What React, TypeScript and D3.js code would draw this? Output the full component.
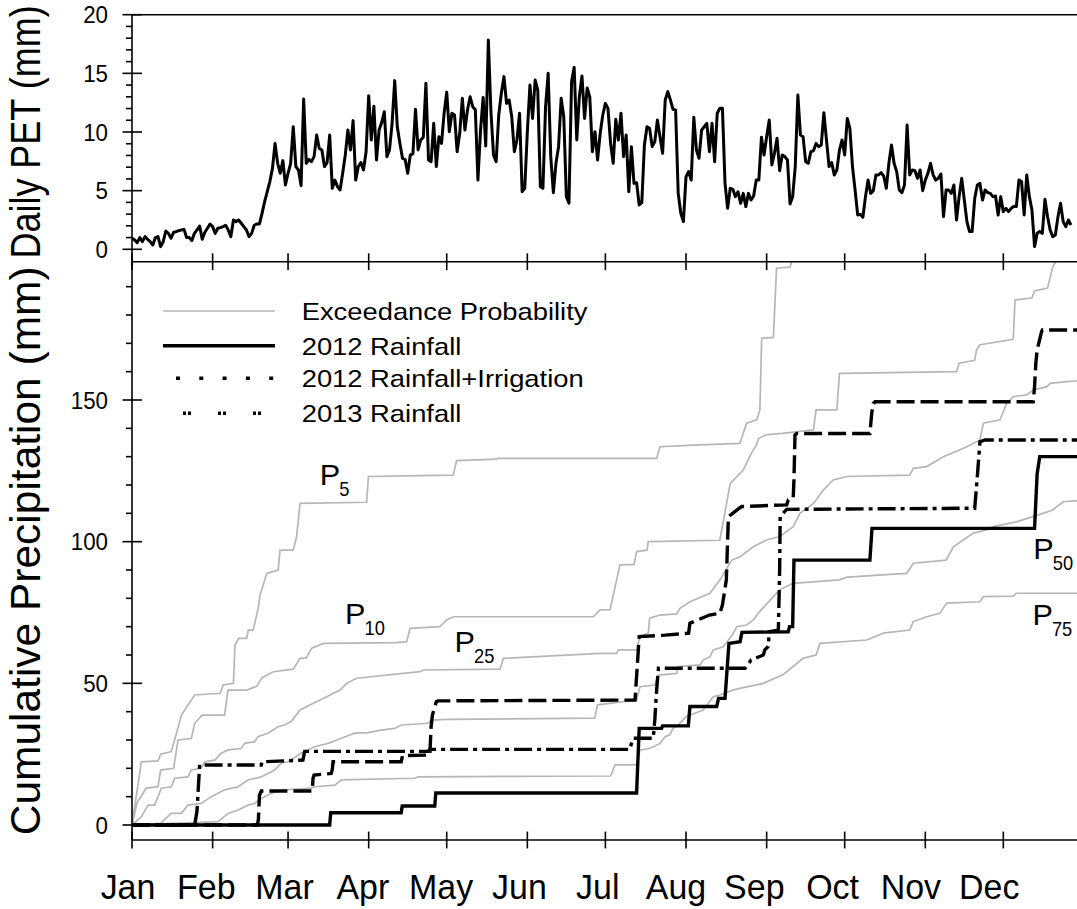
import React from "react";
import * as d3 from "d3";

// ---------------- DATA ----------------
const monthLabels = ["Jan", "Feb", "Mar", "Apr", "May", "Jun", "Jul", "Aug", "Sep", "Oct", "Nov", "Dec"];
const monthStartDays = [0, 31, 60, 91, 121, 152, 182, 213, 244, 274, 305, 335];
const petTickValues = [0, 5, 10, 15, 20];
const precipTickValues = [0, 50, 100, 150];

// Daily PET (mm), one value per day starting Jan 1
const dailyPET = [
  0.94, 0.8, 0.57, 1.0, 0.65, 1.08, 0.85, 0.65, 0.37, 1.0,
  1.08, 0.23, 0.65, 1.56, 1.36, 0.94, 1.45, 1.5, 1.59, 1.65,
  1.7, 1.0, 1.0, 0.74, 1.36, 1.65, 1.99, 0.85, 1.45, 1.79,
  2.16, 1.93, 1.36, 1.79, 1.85, 1.93, 2.05, 1.65, 1.08, 2.5,
  2.36, 2.5, 2.22, 1.93, 1.65, 1.08, 1.36, 2.05, 2.16, 2.16,
  3.07, 4.06, 4.91, 5.77, 6.9, 9.03, 7.33, 6.48, 7.56, 5.48,
  6.48, 7.33, 10.45, 7.05, 6.76, 5.43, 12.81, 7.33, 7.67, 7.47,
  7.9, 9.74, 8.6, 8.47, 7.05, 7.39, 9.74, 5.2, 5.9, 5.34,
  5.06, 6.48, 8.04, 10.17, 8.47, 10.97, 5.9, 7.05, 7.39, 6.76,
  8.32, 13.1, 9.32, 12.2, 7.61, 10.17, 10.8, 11.73, 7.9, 8.47,
  10.74, 14.38, 10.45, 9.03, 7.76, 7.67, 6.48, 8.04, 8.13, 11.93,
  8.47, 9.32, 9.55, 14.15, 7.61,
  7.47, 10.74, 7.05, 9.6, 9.03, 11.6, 13.4, 10.03, 11.6, 11.45,
  8.32, 9.89, 12.87, 10.17, 11.9, 13.0, 12.16, 11.9, 5.9, 10.17,
  12.95, 8.8, 17.84, 11.73, 8.04, 7.47, 11.45, 13.3, 14.72, 12.44,
  12.73, 11.3, 8.32, 9.32, 11.6, 4.91, 5.2, 10.03, 14.0, 11.16,
  14.43, 13.58, 5.34, 5.2, 12.16, 15.0, 7.9, 4.83, 7.33, 8.75,
  12.87, 11.3, 4.49, 3.92, 14.29, 15.51, 9.32, 13.04, 14.77, 11.16,
  13.75, 13.0, 8.32, 10.03, 7.61, 9.89, 11.45, 12.44, 12.0, 9.03,
  7.33, 11.08, 9.32, 11.6, 7.9, 9.74, 4.91, 8.75, 5.62, 5.68,
  3.78, 3.98, 8.89, 10.45, 10.31, 8.75, 9.18, 11.02, 9.6, 8.18,
  12.73, 13.44, 12.73, 11.93, 11.88, 4.77, 3.07, 2.36, 6.19, 6.62,
  5.9, 11.25, 8.47, 7.76, 10.17, 10.45, 10.74, 8.32, 10.74, 7.47,
  11.6, 12.02, 12.02, 5.62, 3.49, 5.2, 5.11, 4.49, 4.91, 3.92,
  4.77, 3.64, 4.77,
  4.2, 4.55, 5.9, 5.9, 9.55, 8.04, 9.6, 11.02, 7.19, 8.18,
  9.46, 6.7, 8.04, 7.9, 7.61, 3.86, 4.49, 7.05, 13.15, 9.74,
  9.6, 7.47, 7.33, 8.32, 8.4, 9.03, 8.75, 8.89, 11.65, 9.32,
  7.05, 7.39, 6.34, 6.76, 8.47, 9.32, 8.04, 11.16, 10.31, 7.05,
  5.06, 2.93, 2.98, 2.73, 4.49, 5.9, 4.77, 5.0, 6.34, 6.34,
  6.53, 6.25, 5.2, 7.33, 8.89, 7.33, 6.62, 5.06, 4.83, 5.48,
  10.6, 6.34, 6.76, 6.7, 6.05, 6.76, 5.0, 5.9, 6.48, 7.33,
  6.34, 5.9, 6.05, 6.42, 2.78, 5.06, 5.06, 4.77, 5.48, 2.5,
  4.49, 6.05, 4.2, 2.36, 1.51, 1.51, 4.35, 5.48, 5.62, 4.2,
  5.06, 4.83, 4.77, 4.49, 4.55, 2.93, 4.49, 3.21, 3.49, 3.21,
  3.49, 3.64, 3.64, 5.9, 5.77, 2.93, 6.34, 4.49, 3.35, 0.23,
  1.36, 1.51, 1.36, 4.26, 2.78, 1.65, 1.08, 1.22, 2.78, 3.92,
  2.36, 1.93, 2.5, 2.07,
];

// Exceedance probability curves (day of year, cumulative mm)
const p5Days = [0, 3.6, 10, 11, 15.1, 17, 19, 24.1, 34, 35, 39, 39.6, 41, 44.1, 44.7, 46.6, 48.6, 49.2, 51.8, 56.2, 56.9, 62, 63.3, 64.6, 90.2, 90.9, 110.7, 123.5, 124.8, 140.2, 140.8, 201.7, 203, 215.8, 233.7, 236.3, 240.2, 241.4, 242.1, 246.6, 247.8, 253, 254, 262];
const p5Values = [0, 22.3, 22.6, 25, 25.9, 32, 38.8, 45.9, 46.5, 49.4, 50, 63.5, 65.9, 65.9, 68.8, 68.8, 77, 81, 88.8, 90, 97, 97, 101.8, 113.5, 113.9, 123, 123.3, 123.5, 128.6, 129.1, 129.4, 129.4, 133.5, 134.1, 134.7, 141.8, 143, 146.5, 171.8, 172.1, 196.5, 196.9, 200, 210];

const p10Days = [0, 2, 5.5, 10, 11, 16, 17.7, 22.8, 24.1, 27, 35.6, 36.9, 44.1, 48, 50, 54.3, 62, 64.6, 67, 69.1, 73.6, 101.8, 105.6, 106.9, 118.4, 121, 123.5, 177.4, 180, 183.8, 187.6, 193, 194, 198, 198.5, 226, 228.6, 230, 235, 236.3, 238, 240, 241, 244, 250, 262, 263, 271, 272, 317, 318, 324, 324.7, 326, 338.8, 339.5, 346, 347, 352, 354, 356, 360];
const p10Values = [0, 8, 13, 13.5, 19.4, 20, 30, 30.5, 35.9, 38.8, 38.8, 47.6, 47.6, 49, 52, 54.1, 55, 58.8, 59, 62.4, 64.1, 64.4, 64.7, 69.4, 70, 72.4, 73.5, 73.5, 75.9, 76, 91.8, 92, 96.5, 97, 100, 100.5, 113.5, 120.6, 125.3, 127.7, 131, 134, 136.5, 137.8, 138.2, 139.5, 146.5, 146.5, 159.4, 160, 163, 164, 167.7, 169.5, 171.4, 185.3, 186, 188.5, 189.5, 197, 200, 210];

const p25Days = [0, 3.6, 6.2, 8.7, 11.3, 15.1, 16.4, 21.5, 22.8, 26.6, 27.9, 31.8, 34.3, 36.9, 42, 43.3, 47.2, 48.4, 52.3, 56.1, 58.7, 61.2, 64.6, 69.7, 74.9, 77.4, 80, 82.5, 86.4, 110.7, 112, 141.5, 142.8, 180, 186.3, 187, 194, 195.3, 198.5, 199, 203, 209.4, 210.7, 214.5, 222.2, 226, 230.6, 233.8, 238.9, 244, 249, 254.2, 256.8, 262, 265.8, 269.6, 274.8, 299, 300.4, 305.5, 312, 321, 326, 327.3, 333.7, 336.3, 338.8, 344, 346.5, 351.7, 353, 359.4, 366];
const p25Values = [0, 2.9, 7, 7, 13, 13.5, 16.5, 17, 19.4, 20, 22.3, 22.9, 25.3, 26.5, 27, 28.8, 29.4, 31.2, 32.4, 34.7, 35.3, 36.5, 40.6, 43, 45.3, 46.5, 47.6, 50, 51.8, 54.1, 54.7, 55, 58.8, 60.6, 60.6, 61.8, 61.8, 66.5, 67.7, 73, 74.1, 74.5, 76.5, 78.8, 81.8, 86.5, 93.5, 94.7, 98.2, 100.6, 101.8, 105.3, 110, 113.5, 118.2, 121.8, 123, 123.5, 125.9, 126.5, 130, 133.5, 135.9, 141.8, 143, 148.8, 151.2, 151.8, 153.5, 154.7, 155.9, 156.5, 157];

const p50Days = [0, 11, 15, 19, 21.5, 26.6, 30.5, 35.6, 40.8, 44.6, 49.7, 54.9, 57.4, 60, 65, 70.2, 75.4, 80.5, 85.6, 90.7, 95.8, 101, 103.5, 113.8, 115, 121.5, 177.9, 179, 194, 195.3, 201, 202.4, 209.4, 210, 218.4, 219.6, 222.2, 223.5, 227.3, 229.3, 231.2, 232.5, 236.3, 238.9, 241, 245, 249, 254, 272, 275, 297.8, 300.4, 313, 315.8, 319.6, 323.5, 328.6, 331, 340, 347, 354, 358, 366];
const p50Values = [0, 0.6, 4.1, 4.1, 7, 7.6, 10, 12.4, 13.5, 15.9, 17, 19.4, 21.8, 22.3, 25.3, 27.6, 28.8, 30.6, 32.4, 32.6, 33.5, 34.1, 35.3, 35.9, 37, 37.3, 37.7, 42.4, 44.1, 48.8, 49.4, 52.9, 53.5, 55.9, 56.5, 58.2, 59.4, 61.8, 62.9, 65.3, 67.7, 70, 70.6, 72.4, 75, 79, 83, 85.3, 86.5, 87.5, 88.8, 92.4, 93.5, 98.2, 100.6, 103, 104.1, 105.3, 107, 109, 111.2, 114.1, 114.7];

const p75Days = [0, 16.5, 33, 37, 40.8, 44.6, 47, 49.7, 53.6, 58.7, 69, 70.2, 78, 80.5, 108.7, 110, 184, 185.7, 194, 195.3, 199, 203, 205, 206.8, 208, 210, 213, 214.6, 219.6, 223.5, 226, 231, 233.7, 242.7, 250, 251.7, 258, 263, 264.5, 282.5, 288.9, 299, 300.4, 305.5, 310.6, 313.2, 326, 327.3, 338.8, 340, 366];
const p75Values = [0, 0.6, 1.2, 4.1, 5.3, 7, 7.6, 9.4, 11.2, 12.4, 13, 13.5, 14.1, 15.9, 16.5, 17, 17.3, 21.2, 21.2, 26.5, 27, 28.8, 31.2, 31.8, 34.1, 35.3, 38.2, 38.8, 40.6, 45.3, 45.9, 47.6, 48.2, 50, 52.9, 54.1, 58.8, 60, 64.1, 65.3, 67.7, 68.8, 71.8, 73.5, 74.7, 78.3, 78.8, 80.6, 80.8, 81.8, 81.8];

// 2012 rainfall
const rain2012Days = [0, 76, 76.4, 103.5, 103.9, 116.4, 116.8, 194, 195, 203.6, 204, 213.9, 214.5, 224.8, 225.5, 228, 229.5, 233.8, 234.5, 252.3, 252.8, 254, 254.5, 283.7, 284.5, 347, 348, 349, 366];
const rain2012Values = [0, 0, 4.3, 4.3, 6.7, 6.7, 11.3, 11.3, 34.1, 34.1, 35, 35, 41.8, 41.8, 44.7, 44.7, 64.1, 64.7, 68, 68.2, 70, 70, 93.5, 93.5, 104.7, 104.7, 124, 130, 130];

// 2012 rainfall + irrigation
const irrig2012Days = [0, 48.2, 48.6, 49, 49.7, 69.3, 69.6, 70, 76.6, 77, 77.3, 103.5, 104, 114.5, 115, 115.5, 117, 117.6, 193.4, 195, 205, 214, 214.5, 222, 226, 227, 228.5, 229.3, 233, 234.4, 251.7, 252.3, 254.2, 254.5, 254.9, 255.6, 283.7, 284.4, 285, 285.7, 346.5, 347, 347.5, 348, 349.7, 350, 366];
const irrig2012Values = [0, 0, 2, 10.5, 12, 12, 16.5, 17.6, 18.2, 19.5, 22.3, 22.3, 24.5, 24.7, 34.7, 38.8, 43.5, 43.8, 44.1, 66.5, 67, 67.7, 71.2, 74.1, 74.7, 77.6, 86.5, 108.8, 111.5, 112.4, 113, 114.7, 115.3, 121.8, 137.7, 138.2, 138.2, 145.3, 148.8, 149.4, 149.4, 154.7, 163, 167.7, 174.1, 174.7, 174.7];

// 2013 rainfall
const rain2013Days = [0, 24.1, 25, 26, 49.7, 50, 65.7, 66.4, 113.8, 114.5, 191.5, 192, 192.7, 200.4, 201, 201.7, 202.4, 235.7, 236.3, 238, 242.7, 243.3, 244.6, 245, 248.5, 249, 249.2, 251.7, 324, 325, 326, 328, 366];
const rain2013Values = [0, 0, 5, 21.2, 21.2, 22.3, 22.9, 26, 26, 26.7, 26.7, 28.8, 30.6, 30.6, 37.1, 47.6, 55.3, 55.3, 55.9, 58.2, 60, 61.8, 63, 68.2, 68.8, 90, 108.8, 111.4, 111.8, 123, 135.3, 135.9, 135.9];

const legendLabels = ["Exceedance Probability", "2012 Rainfall", "2012 Rainfall+Irrigation", "2013 Rainfall"];
const curveLabelNames = ["5", "10", "25", "50", "75"];
const curveLabelDays = [72.2, 81.9, 124, 346.5, 346.2];
const curveLabelValues = [120, 71, 61, 94, 70.6];

// ---------------- LAYOUT ----------------
const W = 1077;
const H = 909;
const PLOT_L = 132;
const PLOT_R = 1077;
const PX_PER_DAY = 2.601;
const TOP_T = 14.7;
const TOP_B = 261.7;
const BOT_B = 840;
const FONT = "'Liberation Sans', Arial, Helvetica, sans-serif";
const GRAY = "#b6b6b6";

const x = d3.scaleLinear().domain([0, 366]).range([PLOT_L, PLOT_L + 366 * PX_PER_DAY]);
const yPet = d3.scaleLinear().domain([0, 20]).range([249.3, 14.7]);
const yCum = d3.scaleLinear().domain([0, 150]).range([825, 400]);

type Pt = [number, number];
const zip = (a: number[], b: number[]): Pt[] => a.map((d, i) => [d, b[i]]);
const cumLine = d3.line<Pt>().x((d) => x(d[0])).y((d) => yCum(d[1]));
const petLine = d3.line<number>().x((_, i) => x(i)).y((d) => yPet(d));

function Txt(props: {
  x: number;
  y: number;
  size: number;
  sx?: number;
  anchor?: string;
  rotate?: number;
  children: React.ReactNode;
}) {
  const { x: tx, y: ty, size, sx = 1, anchor = "start", rotate = 0, children } = props;
  return (
    <text
      transform={`translate(${tx},${ty}) scale(${sx},1)${rotate ? ` rotate(${rotate})` : ""}`}
      fontSize={size}
      textAnchor={anchor as any}
      fontFamily={FONT}
      fill="#000"
    >
      {children}
    </text>
  );
}

export default function App() {
  const petMinor = d3.range(0, 21).filter((v) => v % 5 !== 0);
  const cumMinor = d3.range(0, 199, 10).filter((v) => v % 50 !== 0);

  const grayCurves = [
    zip(p5Days, p5Values),
    zip(p10Days, p10Values),
    zip(p25Days, p25Values),
    zip(p50Days, p50Values),
    zip(p75Days, p75Values),
  ];

  const legendY = [311, 345.7, 378.3, 413.3];

  return (
    <svg
      width={W}
      height={H}
      style={{ position: "absolute", left: 0, top: 0, display: "block", background: "#fff" }}
    >
      <defs>
        <clipPath id="clipTop">
          <rect x={PLOT_L} y={TOP_T} width={PLOT_R - PLOT_L} height={TOP_B - TOP_T} />
        </clipPath>
        <clipPath id="clipBot">
          <rect x={PLOT_L} y={TOP_B} width={PLOT_R - PLOT_L} height={BOT_B - TOP_B} />
        </clipPath>
      </defs>
      <rect x={0} y={0} width={W} height={H} fill="#fff" />

      {/* ---------- Top panel: daily PET ---------- */}
      <g clipPath="url(#clipTop)">
        <path d={petLine(dailyPET) || ""} fill="none" stroke="#000" strokeWidth={3} strokeLinejoin="round" />
      </g>

      {/* ---------- Bottom panel ---------- */}
      <g clipPath="url(#clipBot)">
        {grayCurves.map((c, i) => (
          <path key={i} d={cumLine(c) || ""} fill="none" stroke={GRAY} strokeWidth={1.7} />
        ))}
        <path
          d={cumLine(zip(rain2013Days, rain2013Values)) || ""}
          fill="none"
          stroke="#000"
          strokeWidth={3.4}
          strokeDasharray="18,5,4,5"
        />
        <path
          d={cumLine(zip(irrig2012Days, irrig2012Values)) || ""}
          fill="none"
          stroke="#000"
          strokeWidth={3.4}
          strokeDasharray="18,6"
        />
        <path
          d={cumLine(zip(rain2012Days, rain2012Values)) || ""}
          fill="none"
          stroke="#000"
          strokeWidth={3.4}
        />
      </g>

      {/* ---------- Frame / axes ---------- */}
      <g stroke="#000" strokeWidth={1.6} fill="none">
        <line x1={PLOT_L} x2={PLOT_R} y1={TOP_T} y2={TOP_T} />
        <line x1={PLOT_L} x2={PLOT_R} y1={TOP_B} y2={TOP_B} />
        <line x1={PLOT_L} x2={PLOT_R} y1={BOT_B} y2={BOT_B} />
        <line x1={PLOT_L} x2={PLOT_L} y1={TOP_T} y2={BOT_B} />
        {petTickValues.map((v) => (
          <line key={"pm" + v} x1={PLOT_L - 9.5} x2={PLOT_L + 10} y1={yPet(v)} y2={yPet(v)} />
        ))}
        {petMinor.map((v) => (
          <line key={"pn" + v} x1={PLOT_L - 6} x2={PLOT_L} y1={yPet(v)} y2={yPet(v)} />
        ))}
        {precipTickValues.map((v) => (
          <line key={"cm" + v} x1={PLOT_L - 9.5} x2={PLOT_L + 10} y1={yCum(v)} y2={yCum(v)} />
        ))}
        {cumMinor.map((v) => (
          <line key={"cn" + v} x1={PLOT_L - 6} x2={PLOT_L} y1={yCum(v)} y2={yCum(v)} />
        ))}
        {monthStartDays.map((d) => (
          <g key={"mt" + d}>
            <line x1={x(d)} x2={x(d)} y1={TOP_B - 8.4} y2={TOP_B + 8.4} />
            <line x1={x(d)} x2={x(d)} y1={BOT_B - 8.4} y2={BOT_B + 8.4} />
          </g>
        ))}
      </g>

      {/* ---------- Tick labels ---------- */}
      {petTickValues.map((v) => (
        <Txt key={"pl" + v} x={108} y={yPet(v) + 8.6} size={24} sx={0.93} anchor="end">
          {v}
        </Txt>
      ))}
      {precipTickValues.map((v) => (
        <Txt key={"cl" + v} x={108} y={yCum(v) + 8.6} size={24} sx={0.93} anchor="end">
          {v}
        </Txt>
      ))}
      {monthLabels.map((m, i) => (
        <Txt key={m} x={x(i * 30.1) - 4} y={899} size={35} sx={0.97} anchor="middle">
          {m}
        </Txt>
      ))}

      {/* ---------- Axis titles ---------- */}
      <Txt x={40} y={(TOP_T + 249.3) / 2} size={36} sx={1.16} anchor="middle" rotate={-90}>
        Daily PET (mm)
      </Txt>
      <Txt x={40} y={(TOP_B + BOT_B) / 2} size={42.5} sx={0.99} anchor="middle" rotate={-90}>
        Cumulative Precipitation (mm)
      </Txt>

      {/* ---------- Legend ---------- */}
      <g fill="none">
        <line x1={163} x2={275} y1={legendY[0]} y2={legendY[0]} stroke={GRAY} strokeWidth={1.7} />
        <line x1={163} x2={275} y1={legendY[1]} y2={legendY[1]} stroke="#000" strokeWidth={3.4} />
        <line x1={176} x2={276} y1={legendY[2]} y2={legendY[2]} stroke="#000" strokeWidth={3.4} strokeDasharray="4,19.3" />
        <line x1={183} x2={270} y1={legendY[3]} y2={legendY[3]} stroke="#000" strokeWidth={3.4} strokeDasharray="3,2,3,27" />
      </g>
      {legendLabels.map((l, i) => (
        <Txt key={l} x={301.7} y={legendY[i] + 9} size={24} sx={1.14}>
          {l}
        </Txt>
      ))}

      {/* ---------- Curve labels ---------- */}
      {curveLabelNames.map((name, i) => (
        <g key={name}>
          <Txt x={x(curveLabelDays[i])} y={yCum(curveLabelValues[i])} size={30} sx={1.02}>
            P
          </Txt>
          <Txt x={x(curveLabelDays[i]) + 19.5} y={yCum(curveLabelValues[i]) + 11} size={21} sx={0.87}>
            {name}
          </Txt>
        </g>
      ))}
    </svg>
  );
}
